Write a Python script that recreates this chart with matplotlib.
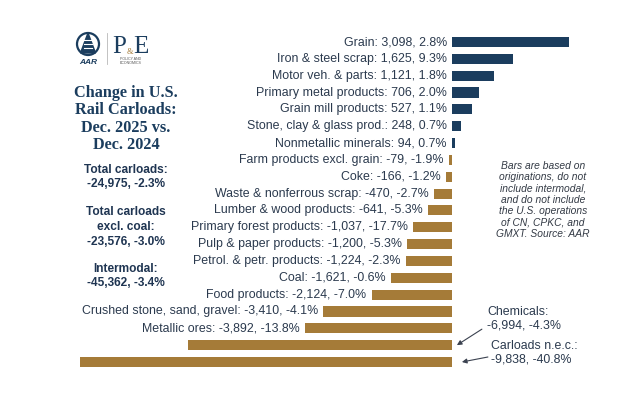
import matplotlib
matplotlib.use("Agg")
import matplotlib.pyplot as plt
from matplotlib.patches import Circle, Polygon
from matplotlib.lines import Line2D
from matplotlib.transforms import offset_copy

categories = ["Grain", "Iron & steel scrap", "Motor veh. & parts", "Primary metal products",
              "Grain mill products", "Stone, clay & glass prod.", "Nonmetallic minerals",
              "Farm products excl. grain", "Coke", "Waste & nonferrous scrap",
              "Lumber & wood products", "Primary forest products", "Pulp & paper products",
              "Petrol. & petr. products", "Coal", "Food products",
              "Crushed stone, sand, gravel", "Metallic ores", "Chemicals", "Carloads n.e.c."]
changes = [3098, 1625, 1121, 706, 527, 248, 94, -79, -166, -470, -641, -1037, -1200,
           -1224, -1621, -2124, -3410, -3892, -6994, -9838]
pct_changes = [2.8, 9.3, 1.8, 2.0, 1.1, 0.7, 0.7, -1.9, -1.2, -2.7, -5.3, -17.7, -5.3,
               -2.3, -0.6, -7.0, -4.1, -13.8, -4.3, -40.8]

NAVY = "#1b3d5e"
GOLD = "#a57b38"
TXT = "#2b3a4e"
W, H = 624, 395

fig = plt.figure(figsize=(6.24, 3.95), dpi=100)
fig.patch.set_facecolor("white")

# main bar axes
top_px, bot_px = 42 - 8.42, 362 + 8.42
ax = fig.add_axes([80 / W, 1 - bot_px / H, (569 - 80) / W, (bot_px - top_px) / H])
ys = list(range(len(categories)))
colors = [NAVY if v > 0 else GOLD for v in changes]
ax.barh(ys, changes, height=0.6, color=colors)
ax.set_xlim(min(changes), max(changes))
ax.set_ylim(len(categories) - 0.5, -0.5)
ax.axis("off")

font = dict(family=["Liberation Sans", "DejaVu Sans"], size=8.9, color=TXT)
n_inline = len(categories) - 2
for i in range(n_inline):
    v = changes[i]
    label = f"{categories[i]}: {v:,}, {pct_changes[i]:.1f}%"
    ax.annotate(label, xy=(min(v, 0), i), xytext=(-5, 0), textcoords="offset pixels",
                ha="right", va="center", **font)

# callouts for the two largest declines
callouts = [(len(categories) - 2, (5, 0), (25, 16), (487, 306)),
            (len(categories) - 1, (10, 0), (26, 5), (491, 340))]
for idx, head_off, tail_off, txt_pos in callouts:
    tr = offset_copy(ax.transData, fig=fig, x=head_off[0], y=head_off[1], units="dots")
    ax.annotate("", xy=(0, idx), xycoords=tr, xytext=tail_off, textcoords="offset pixels",
                arrowprops=dict(arrowstyle="-|>", color="#3b4250", lw=0.8,
                                mutation_scale=7, shrinkA=0, shrinkB=0))
    fig.text(txt_pos[0] / W, 1 - txt_pos[1] / H,
             f"{categories[idx]}:\n{changes[idx]:,}, {pct_changes[idx]:.1f}%",
             ha="left", va="top", linespacing=1.2, **font)

# note
fig.text(543 / W, 1 - 200 / H,
         "Bars are based on\noriginations, do not\ninclude intermodal,\nand do not include\n"
         "the U.S. operations\nof CN, CPKC, and\nGMXT. Source: AAR",
         ha="center", va="center", style="italic", linespacing=1.17,
         family=["Liberation Sans", "DejaVu Sans"], size=7.4, color="#333a45")

# title
fig.text(126 / W, 1 - 119 / H, "Change in U.S.\nRail Carloads:\nDec. 2025 vs.\nDec. 2024",
         ha="center", va="center", family=["Liberation Serif", "DejaVu Serif"],
         weight="bold", size=11.7, color=NAVY, linespacing=1.1)

# summary stats
sfont = dict(family=["Liberation Sans", "DejaVu Sans"], weight="bold", size=8.6,
             color="#1f3552", ha="center", va="center")
fig.text(126 / W, 1 - 177 / H, "Total carloads:\n-24,975, -2.3%", linespacing=1.3, **sfont)
fig.text(126 / W, 1 - 227 / H, "Total carloads\nexcl. coal:\n-23,576, -3.0%", linespacing=1.3, **sfont)
fig.text(126 / W, 1 - 276 / H, "Intermodal:\n-45,362, -3.4%", linespacing=1.3, **sfont)

# logo (approximation)
lax = fig.add_axes([0, 0, 1, 1], zorder=-1)
lax.set_xlim(0, W)
lax.set_ylim(H, 0)
lax.axis("off")
lax.add_patch(Circle((88, 44), 11, fill=False, ec=NAVY, lw=1.6))
lax.add_patch(Polygon([[88, 33], [80.5, 53], [95.5, 53]], closed=True, fc=NAVY, ec=NAVY))
for yy in (40, 44, 48):
    lax.add_line(Line2D([84, 92], [yy, yy], color="white", lw=0.8))
lax.text(88, 62, "AAR", ha="center", va="center", style="italic", weight="bold",
         family=["Liberation Sans"], size=6, color=NAVY)
lax.add_line(Line2D([107, 107], [33, 64], color="#b8b8b8", lw=0.6))
lax.text(112, 47, "P", ha="left", va="center", family=["Liberation Serif"], size=18, color=NAVY)
lax.text(127, 52, "&", ha="left", va="center", family=["Liberation Serif"], size=6, color=GOLD)
lax.text(133, 47, "E", ha="left", va="center", family=["Liberation Serif"], size=18, color=NAVY)
lax.text(131, 59, "POLICY AND", ha="center", va="center", family=["Liberation Sans"],
         size=2.6, color="#555")
lax.text(131, 63, "ECONOMICS", ha="center", va="center", family=["Liberation Sans"],
         size=2.6, color="#555")

fig.savefig("out.png", dpi=100, facecolor="white")
